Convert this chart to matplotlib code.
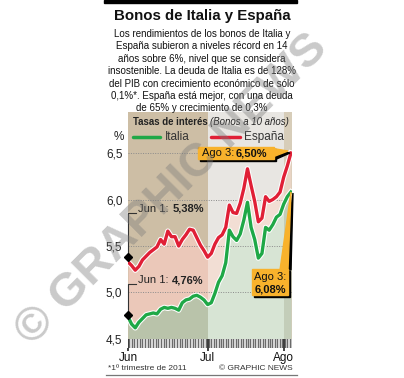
import numpy as np
import matplotlib
matplotlib.use("Agg")
import matplotlib.pyplot as plt
from matplotlib.patches import Rectangle, Polygon
from matplotlib.lines import Line2D
import matplotlib.patheffects as pe

# 10-year bond yields, business days 1 Jun - 3 Aug 2011 (evenly spaced)
italia = [4.74, 4.66, 4.62, 4.68, 4.72, 4.76, 4.77, 4.78, 4.77, 4.82,
          4.84, 4.83, 4.84, 4.83, 4.81, 4.89, 4.92, 4.93, 4.96, 4.97,
          4.95, 4.92, 4.87, 4.89, 4.99, 5.11, 5.18, 5.32, 5.67, 5.60,
          5.56, 5.63, 5.78, 5.97, 5.70, 5.57, 5.37, 5.42, 5.70, 5.67,
          5.73, 5.81, 5.84, 5.95, 6.03, 6.08]
espana = [5.33, 5.29, 5.24, 5.28, 5.35, 5.39, 5.43, 5.46, 5.49, 5.57,
          5.52, 5.66, 5.60, 5.60, 5.50, 5.57, 5.62, 5.68, 5.67, 5.59,
          5.51, 5.45, 5.38, 5.42, 5.52, 5.59, 5.62, 5.70, 5.94, 5.86,
          5.85, 5.96, 6.12, 6.33, 6.15, 5.98, 5.76, 5.80, 6.03, 5.98,
          6.00, 6.03, 6.08, 6.24, 6.36, 6.50]
dias = np.arange(len(italia))
meses = ["Jun", "Jul", "Ago"]
mes_pos = [0, 22, 43]
yticks = [4.5, 5.0, 5.5, 6.0, 6.5]
ylabels = ["4,5", "5,0", "5,5", "6,0", "6,5"]
jun1 = [5.38, 4.76]

plt.rcParams["font.family"] = ["Liberation Sans", "DejaVu Sans"]

W, H = 404, 378
def fx(x):
    return x / W
def fy(y):
    return 1 - y / H

VERDE = "#1fa847"
ROJO = "#e01f36"
NARANJA = "#f8b22c"

fig = plt.figure(figsize=(W / 100, H / 100), dpi=100)

# header
fig.add_artist(Rectangle((fx(104), fy(3)), 193 / W, 3 / H, color="black",
                         transform=fig.transFigure))
fig.text(fx(202), fy(16), "Bonos de Italia y España", ha="center", va="center",
         fontsize=10.8, fontweight="bold", color="#111")
cuerpo = ("Los rendimientos de los bonos de Italia y\n"
          "España subieron a niveles récord en 14\n"
          "años sobre 6%, nivel que se considera\n"
          "insostenible. La deuda de Italia es de 128%\n"
          "del PIB con crecimiento económico de sólo\n"
          "0,1%*. España está mejor, con una deuda\n"
          "de 65% y crecimiento de 0,3%")
fig.text(fx(202), fy(29), cuerpo, ha="center", va="top", fontsize=7.0,
         linespacing=1.30, color="#111")

# main axes
ax = fig.add_axes([fx(128), fy(339), 164 / W, 227 / H])
xmax = 45.3
ax.set_xlim(0, xmax)
ax.set_ylim(4.5, 4.5 + 227 / 93)

bandas = [(0, 22, "#cdbea5", "#ebc8b9", "#b9c3aa"),
          (22, 43, "#e8e6e2", "#f2ded4", "#d7e4d4"),
          (43, xmax, "#d7cdb9", "#e8d4c4", "#c3cdb9")]
for x0, x1, ctop, cmid, cbot in bandas:
    ax.axvspan(x0, x1, color=ctop, lw=0, zorder=0)
    clip = Rectangle((x0, 4.0), x1 - x0, 4, transform=ax.transData)
    f1 = ax.fill_between(dias, italia, espana, color=cmid, lw=0, zorder=1)
    f1.set_clip_path(clip)
    clip2 = Rectangle((x0, 4.0), x1 - x0, 4, transform=ax.transData)
    f2 = ax.fill_between(dias, 4.5, italia, color=cbot, lw=0, zorder=1)
    f2.set_clip_path(clip2)

for v in yticks[1:]:
    ax.axhline(v, color="#8a8a8a", lw=0.7, ls=(0, (1, 1.5)), zorder=1.5)

halo = [pe.Stroke(linewidth=3.9, foreground="white"), pe.Normal()]
ax.plot(dias, espana, color=ROJO, lw=2.4, zorder=3, path_effects=halo,
        solid_joinstyle="round")
ax.plot(dias, italia, color=VERDE, lw=2.4, zorder=3, path_effects=halo,
        solid_joinstyle="round")

ax.set_yticks(yticks)
ax.set_yticklabels(ylabels, fontsize=8.5, color="#222")
ax.tick_params(axis="y", length=0, pad=4)
ax.set_xticks([])
for s in ax.spines.values():
    s.set_visible(False)

# Jun 1 markers and brackets
for val, cy in zip(jun1, [5.86, 5.09]):
    ax.plot([0, 0, 2.3], [val, cy, cy], color="#333", lw=0.8, clip_on=False, zorder=4)
    ax.plot([0], [val], marker="D", ms=4.5, color="black", clip_on=False, zorder=5)
    t1 = ax.text(2.9, cy + 0.04, "Jun 1: ", fontsize=8, color="#222", va="center", zorder=5)
    ax.annotate(f"{val:.2f}%".replace(".", ","), xy=(1, 0.5), xycoords=t1,
                va="center", ha="left", fontsize=8, fontweight="bold", color="#222",
                zorder=5)

# tick band
tb = fig.add_axes([fx(128), fy(348), 164 / W, 9 / H])
tb.set_xlim(0, xmax)
tb.set_ylim(0, 1)
tb.set_facecolor("#eeeeee")
rayas = np.concatenate([np.linspace(0, 22, 31)[:-1], np.linspace(22, 43, 32)[:-1],
                        np.arange(43, xmax, 0.68)])
for r in rayas:
    tb.axvline(r + 0.3, color="#6a6a6a", lw=1.0)
for p in mes_pos:
    tb.axvline(p, color="#222", lw=1.2)
tb.set_yticks([])
tb.set_xticks(mes_pos)
tb.set_xticklabels(meses, fontsize=8.5, color="#111")
tb.tick_params(axis="x", length=2.5, width=1.2, color="#222", pad=0.5)
for s in tb.spines.values():
    s.set_visible(False)

# chart header and legend
fig.text(fx(133), fy(122), "Tasas de interés", fontsize=6.9, fontweight="bold",
         va="center", color="#222")
fig.text(fx(210), fy(122), "(Bonos a 10 años)", fontsize=6.9, style="italic",
         va="center", color="#222")
fig.text(fx(124), fy(137), "%", fontsize=8.5, ha="right", va="center", color="#222")
fig.add_artist(Line2D([fx(133), fx(160)], [fy(137), fy(137)], color=VERDE, lw=2.5,
                      transform=fig.transFigure, solid_capstyle="round"))
fig.text(fx(165), fy(137), "Italia", fontsize=8.5, va="center", color="#333")
fig.add_artist(Line2D([fx(211), fx(240)], [fy(137), fy(137)], color=ROJO, lw=2.5,
                      transform=fig.transFigure, solid_capstyle="round"))
fig.text(fx(244), fy(137), "España", fontsize=8.5, va="center", color="#333")

# callouts
def caja(x0, y0, w, h):
    fig.add_artist(Rectangle((fx(x0 + 2), fy(y0 + h + 2)), w / W, h / H, color="black",
                             transform=fig.transFigure, zorder=5))
    fig.add_artist(Rectangle((fx(x0), fy(y0 + h)), w / W, h / H, color=NARANJA,
                             transform=fig.transFigure, zorder=6))

fig.add_artist(Polygon([(fx(272), fy(150)), (fx(290), fy(153)), (fx(272), fy(161))],
                       color="black", transform=fig.transFigure, zorder=5))
fig.add_artist(Polygon([(fx(270), fy(148)), (fx(288), fy(151)), (fx(270), fy(158))],
                       color=NARANJA, transform=fig.transFigure, zorder=6))
caja(198, 147, 76, 12)
fig.text(fx(202), fy(153.5), "Ago 3: ", fontsize=8, va="center", color="#111", zorder=7)
fig.text(fx(236), fy(153.5), "6,50%", fontsize=8, fontweight="bold", va="center",
         color="#111", zorder=7)

fig.add_artist(Polygon([(fx(283), fy(270)), (fx(291), fy(270)), (fx(293), fy(193))],
                       color="black", transform=fig.transFigure, zorder=5))
fig.add_artist(Polygon([(fx(280), fy(270)), (fx(288), fy(270)), (fx(291), fy(192))],
                       color=NARANJA, transform=fig.transFigure, zorder=6))
caja(252, 269, 36, 26)
fig.text(fx(270), fy(277), "Ago 3:", fontsize=8, ha="center", va="center",
         color="#111", zorder=7)
fig.text(fx(270), fy(289), "6,08%", fontsize=8, ha="center", va="center",
         fontweight="bold", color="#111", zorder=7)

# watermark
fig.text(fx(172), fy(190), "© GRAPHIC NEWS", fontsize=34, fontweight="bold",
         rotation=45, rotation_mode="anchor", ha="center", va="center",
         color="#7a7a7a", alpha=0.4, zorder=8)

# footer
fig.text(fx(108), fy(369), "*1º trimestre de 2011", fontsize=6.0, va="center", color="#333")
fig.text(fx(293), fy(369), "© GRAPHIC NEWS", fontsize=6.0, va="center", ha="right",
         color="#333")
fig.add_artist(Line2D([fx(106), fx(297)], [fy(375), fy(375)], color="#777", lw=0.9,
                      transform=fig.transFigure))

fig.savefig("out.png", dpi=100)
